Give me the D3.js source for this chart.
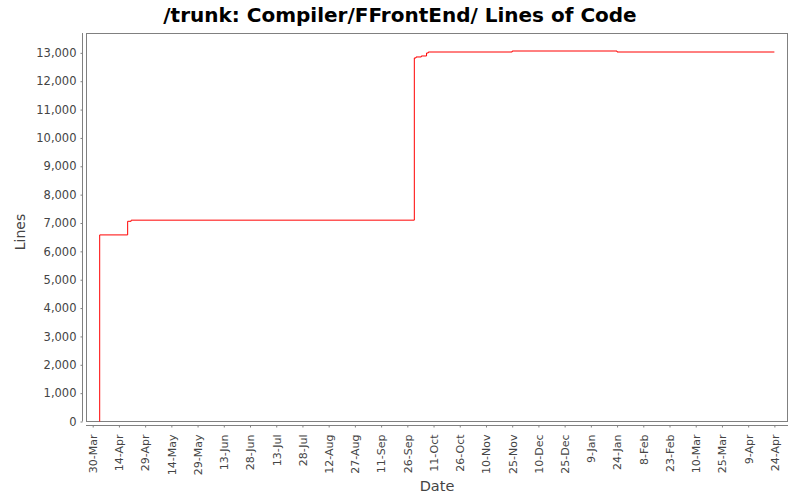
<!DOCTYPE html>
<html><head><meta charset="utf-8">
<script src="https://cdn.jsdelivr.net/npm/d3@7"></script>
<style>
body{margin:0;background:#fff;}
text{font-family:"DejaVu Sans",sans-serif;}
</style></head>
<body><svg id="c" width="800" height="500"></svg>
<script>
// Data: step series of lines of code
const dates = ["2006-04-03","2006-04-03","2006-04-19","2006-04-21","2006-09-30","2006-10-01","2006-10-04","2006-10-07","2006-10-08","2006-11-25","2007-01-24","2007-04-24"];
const lines = [0,6580,7060,7100,12820,12855,12890,12995,13030,13065,13030,13030];
const tickLabels = ["30-Mar","14-Apr","29-Apr","14-May","29-May","13-Jun","28-Jun","13-Jul","28-Jul","12-Aug","27-Aug","11-Sep","26-Sep","11-Oct","26-Oct","10-Nov","25-Nov","10-Dec","25-Dec","9-Jan","24-Jan","8-Feb","23-Feb","10-Mar","25-Mar","9-Apr","24-Apr"];
const tickDates = ["2006-03-30","2006-04-14","2006-04-29","2006-05-14","2006-05-29","2006-06-13","2006-06-28","2006-07-13","2006-07-28","2006-08-12","2006-08-27","2006-09-11","2006-09-26","2006-10-11","2006-10-26","2006-11-10","2006-11-25","2006-12-10","2006-12-25","2007-01-09","2007-01-24","2007-02-08","2007-02-23","2007-03-10","2007-03-25","2007-04-09","2007-04-24"];
const yTicks = [0,1000,2000,3000,4000,5000,6000,7000,8000,9000,10000,11000,12000,13000];

const parse = d3.utcParse("%Y-%m-%d");
const parseT = d3.utcParse("%Y-%m-%dT%H:%M");
const svg = d3.select("#c");
const L=86, R=788, T=33, B=421;

const x = d3.scaleUtc().domain([parseT("2006-03-26T04:00"), parseT("2007-05-01T19:00")]).range([L,R]);
const y = d3.scaleLinear().domain([0,13700]).range([B+0.5,T]);

// plot border
svg.append("rect").attr("x",L+0.5).attr("y",T+0.5).attr("width",R-L-1).attr("height",B-T)
  .attr("fill","#fff").attr("stroke","#808080").attr("stroke-width",1);

// y axis
const yAxis = d3.axisLeft(y).tickValues(yTicks).tickSize(2).tickPadding(4).tickFormat(d3.format(","));
const gy = svg.append("g").attr("transform","translate(82.5,0)").call(yAxis);
gy.select(".domain").attr("stroke","#808080").attr("d",`M0,${T}V${B+0.5}`);
gy.selectAll(".tick line").attr("stroke","#808080");
gy.selectAll(".tick text").attr("fill","#444").style("font-size","11.5px");

// x axis
const xAxis = d3.axisBottom(x).tickValues(tickDates.map(parse)).tickSize(2).tickFormat((d,i)=>tickLabels[i]);
const gx = svg.append("g").attr("transform","translate(0,425.5)").call(xAxis);
gx.select(".domain").attr("stroke","#808080").attr("d",`M${L},0H${R}`);
gx.selectAll(".tick line").attr("stroke","#808080");
gx.selectAll(".tick text").attr("fill","#444").style("font-size","11px")
  .attr("text-anchor","end").attr("transform","rotate(-90)")
  .attr("x",-9).attr("y",0).attr("dy","0.35em");

// line
const pts = dates.map((d,i)=>[parse(d), lines[i]]);
const line = d3.line().x(d=>x(d[0])).y(d=>y(d[1])).curve(d3.curveStepAfter);
svg.append("path").datum(pts).attr("d",line).attr("fill","none").attr("stroke","#ff0000").attr("stroke-width",1);

// titles
svg.append("text").attr("x",400).attr("y",22).attr("text-anchor","middle")
  .style("font-size","20px").style("font-weight","bold").attr("fill","#000")
  .text("/trunk: Compiler/FFrontEnd/ Lines of Code");
svg.append("text").attr("transform","translate(25,232) rotate(-90)").attr("text-anchor","middle")
  .style("font-size","14px").attr("fill","#444").text("Lines");
svg.append("text").attr("x",437).attr("y",491).attr("text-anchor","middle")
  .style("font-size","14.5px").attr("fill","#444").text("Date");
</script></body></html>
